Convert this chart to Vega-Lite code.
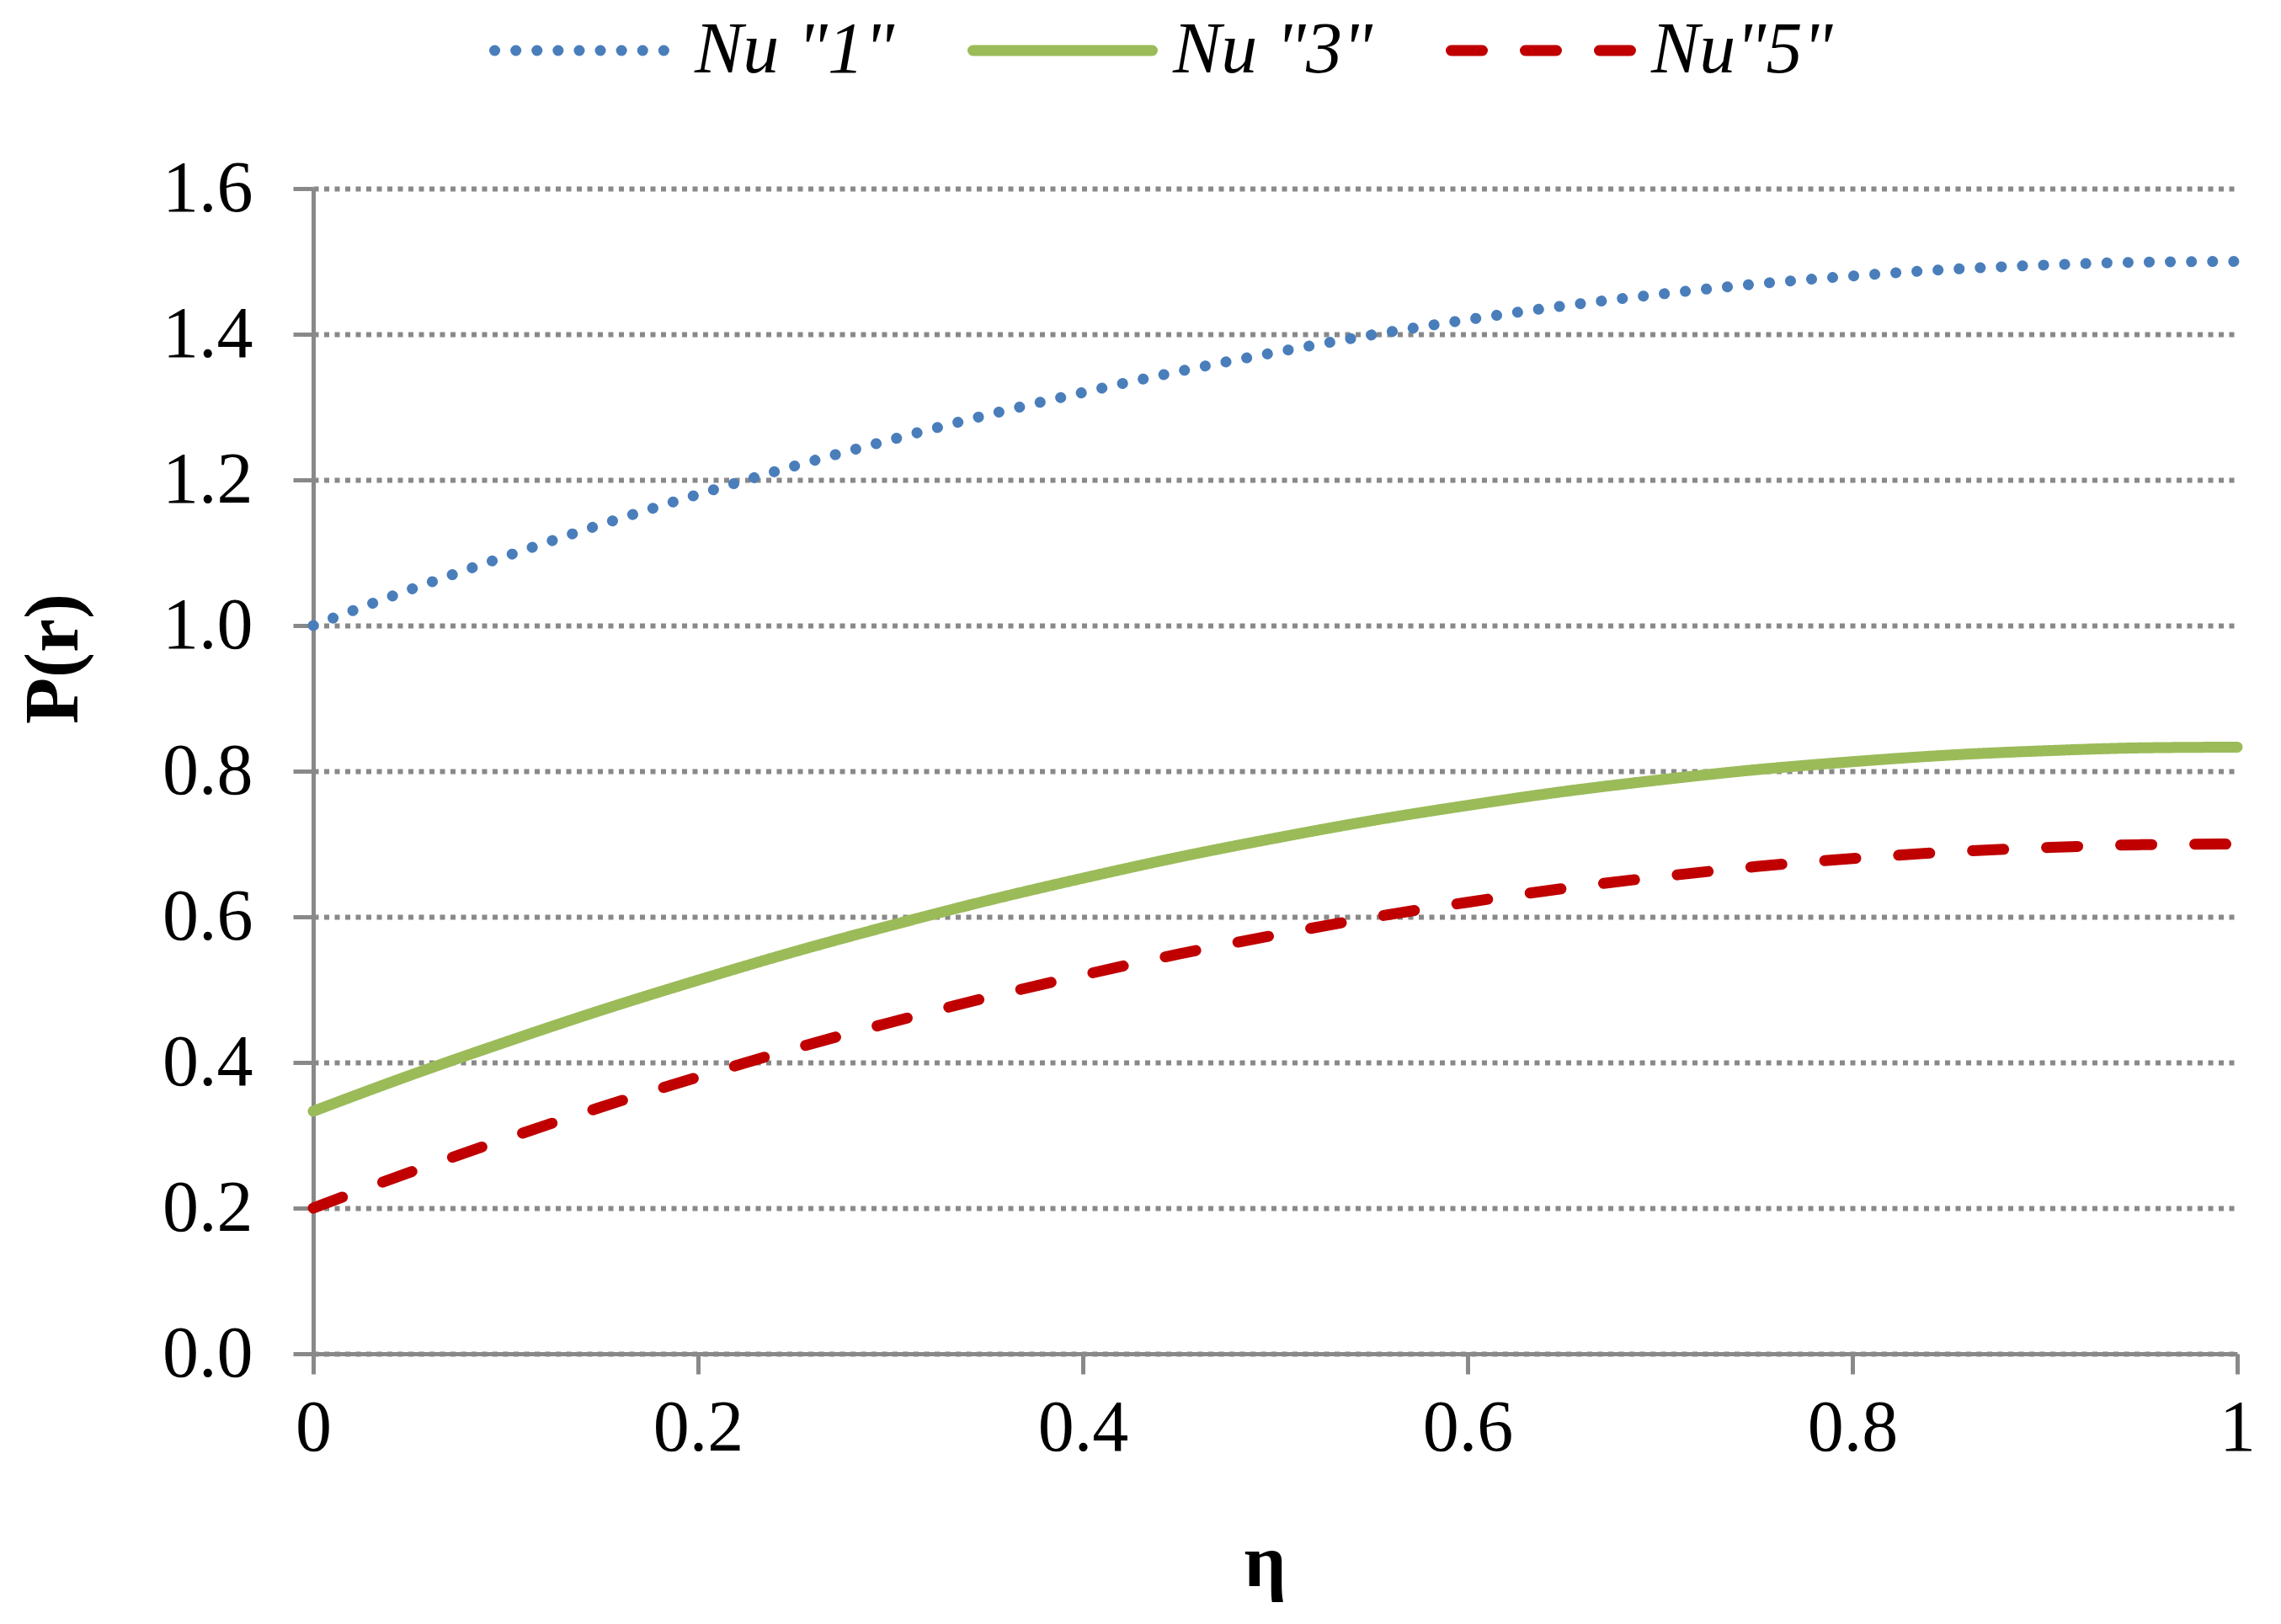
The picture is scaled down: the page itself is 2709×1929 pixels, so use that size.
{
  "$schema": "https://vega.github.io/schema/vega-lite/v6.json",
  "width": 2285,
  "height": 1384,
  "autosize": "none",
  "padding": {"left": 372, "top": 224, "right": 52, "bottom": 321},
  "background": "white",
  "data": {
    "values": [
      {"eta": 0.0, "p": 1.0, "series": "Nu \"1\""},
      {"eta": 0.05, "p": 1.049, "series": "Nu \"1\""},
      {"eta": 0.1, "p": 1.095, "series": "Nu \"1\""},
      {"eta": 0.15, "p": 1.139, "series": "Nu \"1\""},
      {"eta": 0.2, "p": 1.18, "series": "Nu \"1\""},
      {"eta": 0.25, "p": 1.219, "series": "Nu \"1\""},
      {"eta": 0.3, "p": 1.255, "series": "Nu \"1\""},
      {"eta": 0.35, "p": 1.289, "series": "Nu \"1\""},
      {"eta": 0.4, "p": 1.32, "series": "Nu \"1\""},
      {"eta": 0.45, "p": 1.349, "series": "Nu \"1\""},
      {"eta": 0.5, "p": 1.375, "series": "Nu \"1\""},
      {"eta": 0.55, "p": 1.399, "series": "Nu \"1\""},
      {"eta": 0.6, "p": 1.42, "series": "Nu \"1\""},
      {"eta": 0.65, "p": 1.439, "series": "Nu \"1\""},
      {"eta": 0.7, "p": 1.455, "series": "Nu \"1\""},
      {"eta": 0.75, "p": 1.469, "series": "Nu \"1\""},
      {"eta": 0.8, "p": 1.48, "series": "Nu \"1\""},
      {"eta": 0.85, "p": 1.489, "series": "Nu \"1\""},
      {"eta": 0.9, "p": 1.495, "series": "Nu \"1\""},
      {"eta": 0.95, "p": 1.499, "series": "Nu \"1\""},
      {"eta": 1.0, "p": 1.5, "series": "Nu \"1\""},
      {"eta": 0.0, "p": 0.333, "series": "Nu \"3\""},
      {"eta": 0.05, "p": 0.382, "series": "Nu \"3\""},
      {"eta": 0.1, "p": 0.428, "series": "Nu \"3\""},
      {"eta": 0.15, "p": 0.472, "series": "Nu \"3\""},
      {"eta": 0.2, "p": 0.513, "series": "Nu \"3\""},
      {"eta": 0.25, "p": 0.552, "series": "Nu \"3\""},
      {"eta": 0.3, "p": 0.588, "series": "Nu \"3\""},
      {"eta": 0.35, "p": 0.622, "series": "Nu \"3\""},
      {"eta": 0.4, "p": 0.653, "series": "Nu \"3\""},
      {"eta": 0.45, "p": 0.682, "series": "Nu \"3\""},
      {"eta": 0.5, "p": 0.708, "series": "Nu \"3\""},
      {"eta": 0.55, "p": 0.732, "series": "Nu \"3\""},
      {"eta": 0.6, "p": 0.753, "series": "Nu \"3\""},
      {"eta": 0.65, "p": 0.772, "series": "Nu \"3\""},
      {"eta": 0.7, "p": 0.788, "series": "Nu \"3\""},
      {"eta": 0.75, "p": 0.802, "series": "Nu \"3\""},
      {"eta": 0.8, "p": 0.813, "series": "Nu \"3\""},
      {"eta": 0.85, "p": 0.822, "series": "Nu \"3\""},
      {"eta": 0.9, "p": 0.828, "series": "Nu \"3\""},
      {"eta": 0.95, "p": 0.832, "series": "Nu \"3\""},
      {"eta": 1.0, "p": 0.833, "series": "Nu \"3\""},
      {"eta": 0.0, "p": 0.2, "series": "Nu\"5\""},
      {"eta": 0.05, "p": 0.249, "series": "Nu\"5\""},
      {"eta": 0.1, "p": 0.295, "series": "Nu\"5\""},
      {"eta": 0.15, "p": 0.339, "series": "Nu\"5\""},
      {"eta": 0.2, "p": 0.38, "series": "Nu\"5\""},
      {"eta": 0.25, "p": 0.419, "series": "Nu\"5\""},
      {"eta": 0.3, "p": 0.455, "series": "Nu\"5\""},
      {"eta": 0.35, "p": 0.489, "series": "Nu\"5\""},
      {"eta": 0.4, "p": 0.52, "series": "Nu\"5\""},
      {"eta": 0.45, "p": 0.549, "series": "Nu\"5\""},
      {"eta": 0.5, "p": 0.575, "series": "Nu\"5\""},
      {"eta": 0.55, "p": 0.599, "series": "Nu\"5\""},
      {"eta": 0.6, "p": 0.62, "series": "Nu\"5\""},
      {"eta": 0.65, "p": 0.639, "series": "Nu\"5\""},
      {"eta": 0.7, "p": 0.655, "series": "Nu\"5\""},
      {"eta": 0.75, "p": 0.669, "series": "Nu\"5\""},
      {"eta": 0.8, "p": 0.68, "series": "Nu\"5\""},
      {"eta": 0.85, "p": 0.689, "series": "Nu\"5\""},
      {"eta": 0.9, "p": 0.695, "series": "Nu\"5\""},
      {"eta": 0.95, "p": 0.699, "series": "Nu\"5\""},
      {"eta": 1.0, "p": 0.7, "series": "Nu\"5\""}
    ]
  },
  "mark": {"type": "line", "strokeWidth": 13, "strokeCap": "round", "interpolate": "monotone"},
  "encoding": {
    "x": {
      "field": "eta",
      "type": "quantitative",
      "scale": {"domain": [0, 1], "nice": false},
      "axis": {
        "title": "η",
        "values": [0, 0.2, 0.4, 0.6, 0.8, 1],
        "format": "~g",
        "labelFlush": false,
        "grid": false,
        "titleFontWeight": "bold",
        "titleFontSize": 88,
        "titleBaseline": "alphabetic",
        "titleX": 1130,
        "titleY": 275
      }
    },
    "y": {
      "field": "p",
      "type": "quantitative",
      "scale": {"domain": [0, 1.6], "nice": false},
      "axis": {
        "title": "P(r)",
        "values": [0, 0.2, 0.4, 0.6, 0.8, 1.0, 1.2, 1.4, 1.6],
        "format": ".1f",
        "labelPadding": 48,
        "grid": true,
        "gridColor": "#898989",
        "gridDash": [6, 6.5],
        "gridWidth": 6,
        "titleFontWeight": "bold",
        "titleFontSize": 90,
        "titleAngle": -90,
        "titleBaseline": "bottom",
        "titleX": -262,
        "titleY": 558
      }
    },
    "color": {
      "field": "series",
      "type": "nominal",
      "scale": {"domain": ["Nu \"1\"", "Nu \"3\"", "Nu\"5\""], "range": ["#4a7ebb", "#9bbb59", "#c00000"]},
      "legend": {
        "title": null,
        "orient": "none",
        "direction": "horizontal",
        "legendX": 209,
        "legendY": -277,
        "padding": 0,
        "symbolType": "stroke",
        "symbolSize": 45369,
        "symbolStrokeWidth": 13,
        "labelFont": "Liberation Serif",
        "labelFontStyle": "italic",
        "labelFontSize": 86,
        "labelColor": "black",
        "labelLimit": 800,
        "labelOffset": 18,
        "columnPadding": 66,
        "encode": {"symbols": {"update": {"strokeCap": {"value": "round"}}}}
      }
    },
    "strokeDash": {
      "field": "series",
      "type": "nominal",
      "scale": {"domain": ["Nu \"1\"", "Nu \"3\"", "Nu\"5\""], "range": [[0.1, 25], [1, 0], [37, 51]]},
      "legend": null
    }
  },
  "config": {
    "font": "Liberation Serif",
    "view": {"stroke": null},
    "axis": {
      "domainColor": "#898989",
      "domainWidth": 5,
      "tickColor": "#898989",
      "tickWidth": 5,
      "tickSize": 24,
      "labelFont": "Liberation Serif",
      "labelFontSize": 86,
      "labelColor": "black",
      "labelPadding": 22,
      "titleFont": "Liberation Serif",
      "titleColor": "black"
    }
  }
}
